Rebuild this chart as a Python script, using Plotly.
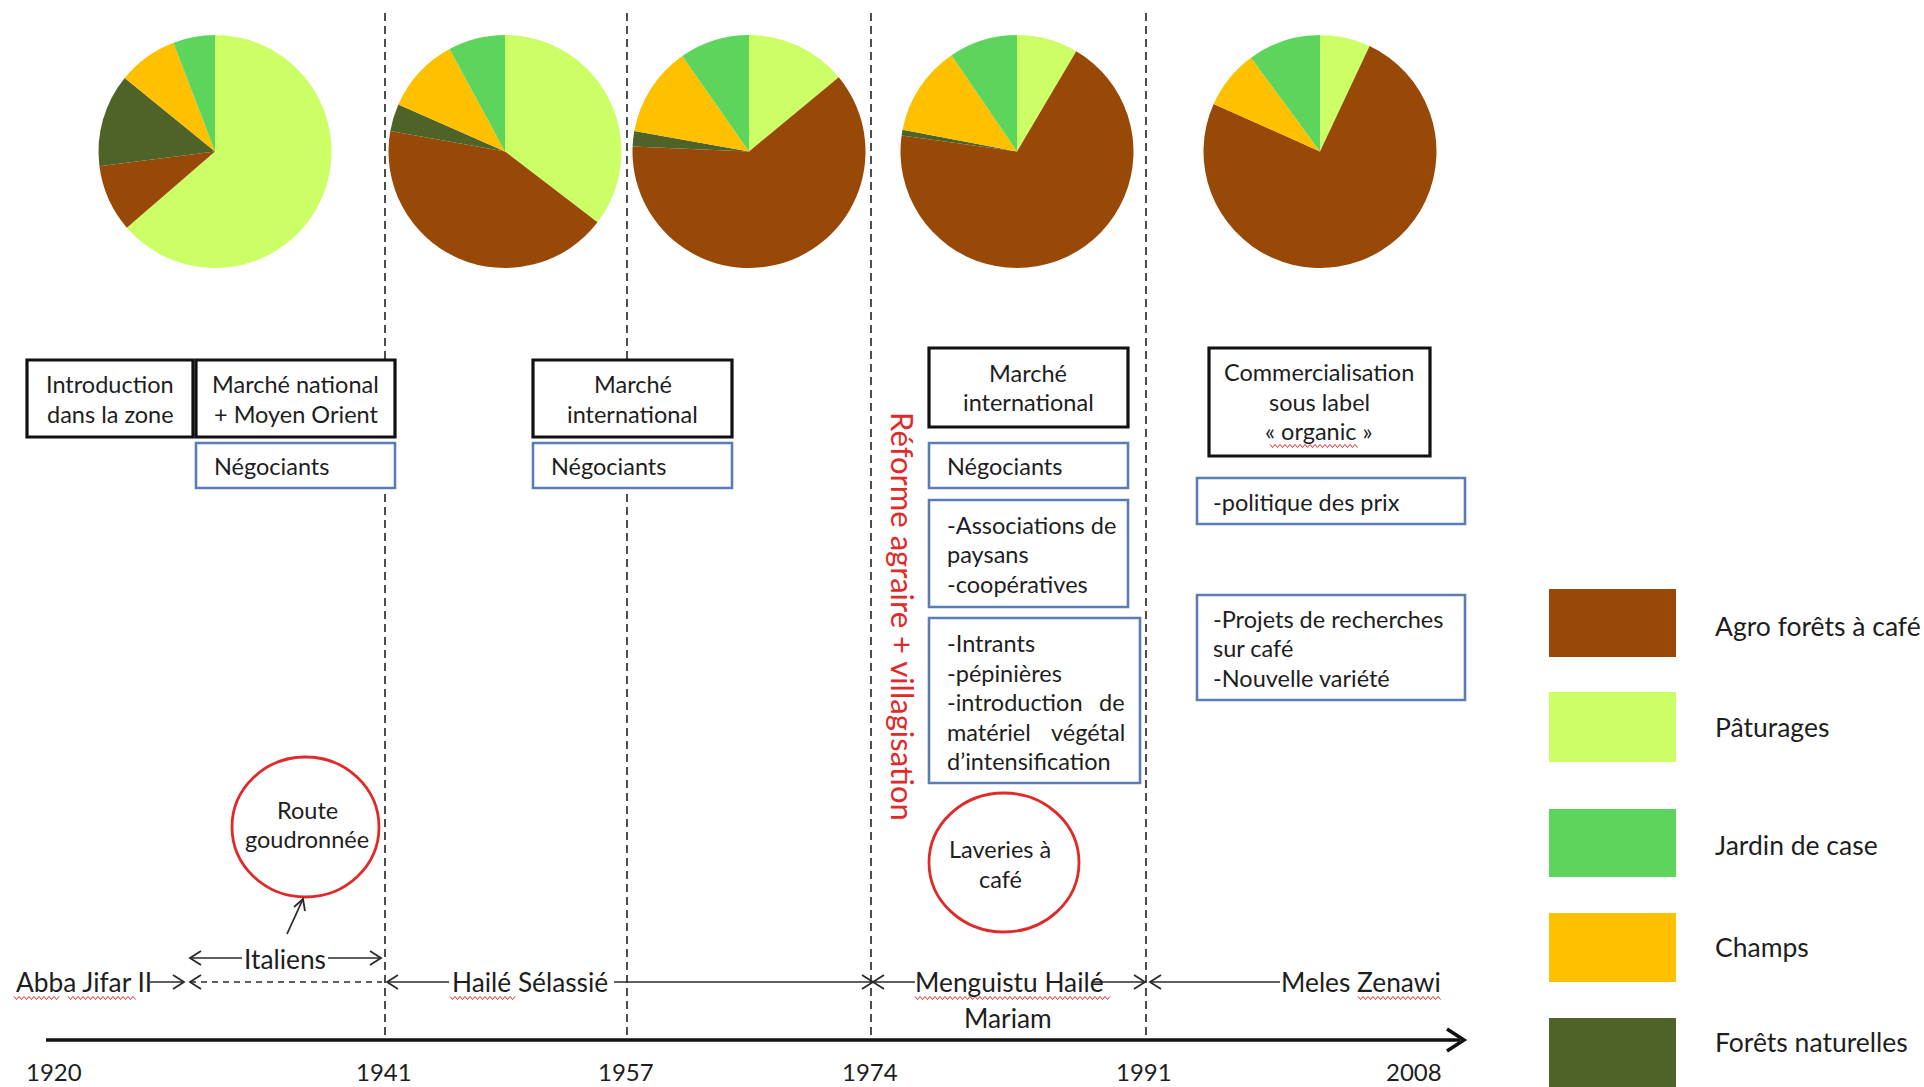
import plotly.graph_objects as go

W, H = 1924, 1087
FONT = "Lato"
TXT = "#1e1e1e"
RED = "#E02A2A"
BLUE = "#5B7DB3"

# ---------------- data ----------------
categories = ["Agro forêts à café", "Pâturages", "Jardin de case", "Champs", "Forêts naturelles"]
cat_colors = ["#984807", "#CCFF66", "#5DD55D", "#FFC000", "#4F6228"]

# slice order clockwise from 12 o'clock
pie_order = ["Pâturages", "Agro forêts à café", "Forêts naturelles", "Champs", "Jardin de case"]
periods = ["1920-1941", "1941-1957", "1957-1974", "1974-1991", "1991-2008"]
paturages = [63.6, 35.4, 14.0, 8.5, 7.0]
agro = [9.3, 42.4, 61.7, 68.7, 74.7]
forets = [12.9, 3.8, 2.1, 0.8, 0.0]
champs = [8.3, 10.5, 12.5, 12.5, 8.2]
jardin = [5.8, 7.9, 9.7, 9.5, 10.1]

years = ["1920", "1941", "1957", "1974", "1991", "2008"]
dividers = ["1941", "1957", "1974", "1991"]

# ---------------- layout positions (pixels) ----------------
pie_cx = [215, 505, 749, 1017, 1320]
pie_cy = 151.5
pie_r = 116.5
year_x = [54, 384, 626, 870, 1144, 1414]
divider_x = [385, 627, 871, 1146]
axis_y = 1040

series = {
    "Pâturages": paturages,
    "Agro forêts à café": agro,
    "Forêts naturelles": forets,
    "Champs": champs,
    "Jardin de case": jardin,
}
color_of = dict(zip(categories, cat_colors))

fig = go.Figure()
for i, p in enumerate(periods):
    vals = [series[c][i] for c in pie_order]
    cx = pie_cx[i]
    fig.add_trace(go.Pie(
        labels=pie_order, values=vals, sort=False, direction="clockwise", rotation=0,
        marker=dict(colors=[color_of[c] for c in pie_order], line=dict(width=0)),
        textinfo="none", hoverinfo="label+percent", showlegend=False, name=p,
        domain=dict(x=[(cx - pie_r) / W, (cx + pie_r) / W],
                    y=[1 - (pie_cy + pie_r) / H, 1 - (pie_cy - pie_r) / H]),
    ))

shapes = []
ann = []

def text(x, y, s, size=23, color=TXT, xanchor="center", angle=0):
    ann.append(dict(x=x, y=y, xref="x", yref="y", text=s, showarrow=False,
                    xanchor=xanchor, yanchor="middle", textangle=angle,
                    font=dict(family=FONT, size=size, color=color)))

# dashed era dividers
for x in divider_x:
    shapes.append(dict(type="line", x0=x, x1=x, y0=13, y1=axis_y, xref="x", yref="y",
                       line=dict(color="#222222", width=1.6, dash="8px,5px"), layer="below"))

# time axis
shapes.append(dict(type="line", x0=46, x1=1460, y0=axis_y, y1=axis_y, xref="x", yref="y",
                   line=dict(color="#111111", width=3.5)))
shapes.append(dict(type="path", path=f"M 1447,{axis_y-11} L 1464,{axis_y} L 1447,{axis_y+11}",
                   xref="x", yref="y", line=dict(color="#111111", width=3.5)))
for s, x in zip(years, year_x):
    text(x, 1071, s, size=24)

BOXF = 23.5
# boxes
boxes = [
    (27, 360, 193, 437, "black", ["Introduction", "dans la zone"], "center", 110, 399),
    (196, 360, 395, 437, "black", ["Marché national", "+ Moyen Orient"], "center", 295.5, 399),
    (196, 443, 395, 488, "blue", ["Négociants"], "left", 212, 466),
    (533, 360, 732, 437, "black", ["Marché", "international"], "center", 632.5, 399),
    (533, 443, 732, 488, "blue", ["Négociants"], "left", 549, 466),
    (929, 348, 1128, 427, "black", ["Marché", "international"], "center", 1028, 387.5),
    (929, 443, 1128, 488, "blue", ["Négociants"], "left", 945, 466),
    (929, 500, 1128, 607, "blue", ["-Associations de", "paysans", "-coopératives"], "left", 945, 554),
    (929, 618, 1140, 783, "blue", ["-Intrants", "-pépinières", "-introduction", "matériel", "d’intensification"], "left", 945, 702),
    (1209, 348, 1430, 456, "black", ["Commercialisation", "sous label", "« organic »"], "center", 1319, 401.5),
    (1197, 478, 1465, 524, "blue", ["-politique des prix"], "left", 1211, 502),
    (1197, 595, 1465, 700, "blue", ["-Projets de recherches", "sur café", "-Nouvelle variété"], "left", 1211, 648),
]
SP = 29.5
for x0, y0, x1, y1, style, lines, align, tx, cy in boxes:
    if style == "black":
        ln = dict(color="#111111", width=3.2)
    else:
        ln = dict(color=BLUE, width=2.6)
    shapes.append(dict(type="rect", x0=x0, x1=x1, y0=y0, y1=y1, xref="x", yref="y",
                       line=ln, fillcolor="white", layer="below"))
    n = len(lines)
    for k, s in enumerate(lines):
        yy = cy + (k - (n - 1) / 2) * SP
        text(tx, yy, s, size=BOXF, xanchor=align)
# justified words in the "Intrants" box
text(1127, 702, "de", size=BOXF, xanchor="right")
text(1127, 702 + SP, "végétal", size=BOXF, xanchor="right")

# red circles
circles = [
    (232, 757, 379, 897, ["Route", "goudronnée"], 307, 824.5),
    (929, 793, 1079, 932, ["Laveries à", "café"], 1000, 864),
]
for x0, y0, x1, y1, lines, tx, cy in circles:
    shapes.append(dict(type="circle", x0=x0, x1=x1, y0=y0, y1=y1, xref="x", yref="y",
                       line=dict(color=RED, width=2.8), fillcolor="white", layer="below"))
    n = len(lines)
    for k, s in enumerate(lines):
        text(tx, cy + (k - (n - 1) / 2) * SP, s, size=23.5)

# vertical red text
text(903, 616, "Réforme agraire + villagisation", size=31, color=RED, angle=90)

# arrows
ARC = "#2a2a2a"
TLF = 26.3

def seg(x0, x1, y, dash=None):
    d = dict(type="line", x0=x0, x1=x1, y0=y, y1=y, xref="x", yref="y",
             line=dict(color=ARC, width=1.6))
    if dash:
        d["line"]["dash"] = dash
    shapes.append(d)

def head(x, y, direction):
    dx = -11 if direction == "right" else 11
    shapes.append(dict(type="path", path=f"M {x+dx},{y-7} L {x},{y} L {x+dx},{y+7}",
                       xref="x", yref="y", line=dict(color=ARC, width=1.8)))

# Italiens
text(285, 959, "Italiens", size=TLF)
seg(190, 242, 958); head(190, 958, "left")
seg(328, 381, 958); head(381, 958, "right")
# arrow to Route goudronnée
shapes.append(dict(type="line", x0=287, y0=934, x1=303, y1=899, xref="x", yref="y",
                   line=dict(color=ARC, width=1.8)))
shapes.append(dict(type="path", path="M 294,907 L 303,899 L 305,911", xref="x", yref="y",
                   line=dict(color=ARC, width=1.8)))

# rulers row
ry = 982
text(14, ry, "Abba Jifar II", size=TLF, xanchor="left")
seg(150, 184, ry); head(184, ry, "right")
seg(190, 382, ry, dash="6px,5px"); head(190, ry, "left")
seg(387, 449, ry); head(387, ry, "left")
text(450, ry, "Hailé Sélassié", size=TLF, xanchor="left")
seg(614, 873, ry); head(873, ry, "right")
seg(873, 915, ry); head(873, ry, "left")
text(913, ry, "Menguistu Hailé", size=TLF, xanchor="left")
text(1008, 1018, "Mariam", size=TLF)
seg(1092, 1145, ry); head(1145, ry, "right")
seg(1150, 1280, ry); head(1150, ry, "left")
text(1279, ry, "Meles Zenawi", size=TLF, xanchor="left")

# spell-check squiggles
def squiggle(x0, x1, y):
    pts = []
    x = x0
    k = 0
    while x <= x1:
        pts.append(f"{x:.1f},{y + (1.6 if k % 2 else -1.6):.1f}")
        x += 2.5
        k += 1
    shapes.append(dict(type="path", path="M " + " L ".join(pts), xref="x", yref="y",
                       line=dict(color="#E03030", width=1)))

for x0, x1, y in [(14, 60, 998), (68, 136, 998), (450, 515, 998), (915, 1110, 998),
                  (1358, 1442, 998), (1270, 1358, 446)]:
    squiggle(x0, x1, y)

# custom legend
legend_y0 = [589, 692, 809, 913, 1018]
legend_h = [68, 70, 68, 69, 70]
legend_label_y = [626, 727, 845, 947, 1042]
for cat, col, y0, h, ly in zip(categories, cat_colors, legend_y0, legend_h, legend_label_y):
    shapes.append(dict(type="rect", x0=1549, x1=1676, y0=y0, y1=y0 + h, xref="x", yref="y",
                       line=dict(width=0), fillcolor=col))
    text(1713, ly, cat, size=26.5, xanchor="left")

fig.update_layout(
    width=W, height=H, margin=dict(l=0, r=0, t=0, b=0),
    paper_bgcolor="white", plot_bgcolor="white",
    xaxis=dict(range=[0, W], visible=False, fixedrange=True),
    yaxis=dict(range=[H, 0], visible=False, fixedrange=True),
    shapes=shapes, annotations=ann, showlegend=False,
)

fig.write_html("out.html", config={"displayModeBar": False},
               post_script="document.body.style.margin='0';document.body.style.overflow='hidden';")
